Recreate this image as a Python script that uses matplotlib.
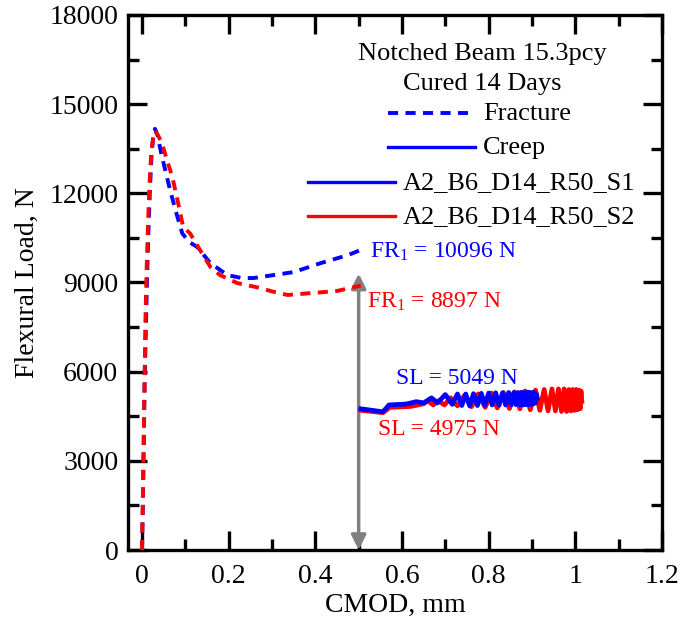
import matplotlib
matplotlib.use("Agg")
import matplotlib.pyplot as plt
from matplotlib.ticker import MultipleLocator

plt.rcParams["font.family"] = ["Liberation Serif", "DejaVu Serif"]
plt.rcParams["mathtext.fontset"] = "custom"
plt.rcParams["mathtext.rm"] = "Liberation Serif"
plt.rcParams["mathtext.it"] = "Liberation Serif:italic"

# Fracture test curves (CMOD in mm, load in N)
frac_s1_cmod = [0.0, 0.002, 0.004, 0.006, 0.009, 0.012, 0.015, 0.018, 0.022, 0.026,
                0.030, 0.036, 0.045, 0.055, 0.065, 0.078, 0.093, 0.110, 0.127, 0.158,
                0.197, 0.230, 0.257, 0.304, 0.350, 0.412, 0.475, 0.505]
frac_s1_load = [0, 1500, 3500, 5500, 7500, 9300, 10800, 12000, 13300, 13900,
                14170, 13950, 13300, 12700, 12100, 11400, 10650, 10350, 10200, 9650,
                9250, 9150, 9150, 9250, 9350, 9650, 9920, 10096]

frac_s2_cmod = [0.0, 0.002, 0.004, 0.006, 0.008, 0.011, 0.014, 0.017, 0.021, 0.025,
                0.030, 0.037, 0.046, 0.058, 0.070, 0.083, 0.095, 0.111, 0.134, 0.158,
                0.180, 0.220, 0.273, 0.300, 0.336, 0.396, 0.450, 0.505]
frac_s2_load = [0, 1800, 3800, 5800, 7800, 9600, 11000, 12200, 13300, 13800,
                14100, 13950, 13690, 13100, 12550, 11700, 10870, 10650, 10090, 9520,
                9250, 8980, 8815, 8700, 8580, 8650, 8715, 8897]

# Creep test curves
creep_s1_cmod = [0.505, 0.556, 0.570, 0.609, 0.633, 0.650, 0.668, 0.682, 0.700, 0.716,
                 0.728, 0.738, 0.747, 0.756, 0.765, 0.774, 0.783, 0.791, 0.800, 0.808,
                 0.816, 0.824, 0.832, 0.839, 0.846, 0.852, 0.858, 0.863, 0.868, 0.872,
                 0.876, 0.880, 0.884, 0.887, 0.890, 0.893, 0.896, 0.899, 0.902, 0.904,
                 0.906, 0.908, 0.910, 0.912]
creep_s1_load = [4750, 4650, 4880, 4910, 4990, 4950, 5120, 4950, 5230, 4900,
                 5250, 4860, 5250, 4850, 5260, 4860, 5270, 4870, 5280, 4880,
                 5290, 4870, 5290, 4880, 5300, 4880, 5300, 4890, 5300, 4880,
                 5310, 4880, 5300, 4890, 5310, 4890, 5300, 4900, 5300, 4920,
                 5290, 4950, 5250, 5100]

creep_s2_cmod = [0.505, 0.556, 0.572, 0.620, 0.650, 0.660, 0.672, 0.684, 0.698, 0.712,
                 0.728, 0.744, 0.760, 0.776, 0.792, 0.806, 0.820, 0.834, 0.848, 0.860,
                 0.872, 0.884, 0.896, 0.908, 0.918, 0.928, 0.937, 0.946, 0.954, 0.961,
                 0.968, 0.974, 0.980, 0.985, 0.990, 0.994, 0.998, 1.002, 1.005, 1.008,
                 1.011, 1.013, 1.015]
creep_s2_load = [4700, 4620, 4800, 4830, 4920, 5020, 4880, 5020, 4880, 5120,
                 4850, 5200, 4820, 5250, 4800, 5280, 4780, 5300, 4760, 5320,
                 4750, 5350, 4720, 5380, 4700, 5400, 4680, 5420, 4680, 5420,
                 4660, 5420, 4660, 5400, 4680, 5400, 4700, 5400, 4720, 5380,
                 4750, 5350, 5000]

fr_s1, fr_s2 = 10096, 8897
sl_s1, sl_s2 = 5049, 4975
arrow_cmod = 0.5
arrow_top = 9300

x_ticks = [0, 0.2, 0.4, 0.6, 0.8, 1.0, 1.2]
x_tick_labels = ["0", "0.2", "0.4", "0.6", "0.8", "1", "1.2"]
y_ticks = [0, 3000, 6000, 9000, 12000, 15000, 18000]

BLUE = "#0000ff"
RED = "#ff0000"
GREY = "#808080"

fig = plt.figure(figsize=(6.83, 6.27), dpi=100)
ax = fig.add_axes([0.1874, 0.1228, 0.7819, 0.8533])

dash = (0, (2.6, 1.9))
ax.plot(frac_s1_cmod, frac_s1_load, color=BLUE, lw=2.8, linestyle=dash, zorder=3)
ax.plot(frac_s2_cmod, frac_s2_load, color=RED, lw=2.8, linestyle=dash, zorder=4)
ax.plot(creep_s2_cmod, creep_s2_load, color=RED, lw=3.4, solid_joinstyle="round", zorder=3)
ax.plot(creep_s1_cmod, creep_s1_load, color=BLUE, lw=3.4, solid_joinstyle="round", zorder=4)

ax.annotate("", xy=(arrow_cmod, 0), xytext=(arrow_cmod, arrow_top),
            arrowprops=dict(arrowstyle="<|-|>", color=GREY, lw=2.5,
                            mutation_scale=22, shrinkA=0, shrinkB=0), zorder=2)

ax.text(0.526, 10027, r"FR$_1$ = %d N" % fr_s1, color=BLUE, fontsize=17, va="center", ha="left")
ax.text(0.519, 8345, r"FR$_1$ = %d N" % fr_s2, color=RED, fontsize=17, va="center", ha="left")
ax.text(0.586, 5754, "SL = %d N" % sl_s1, color=BLUE, fontsize=17, va="center", ha="left")
ax.text(0.545, 4071, "SL = %d N" % sl_s2, color=RED, fontsize=17, va="center", ha="left")

# key block
tr = ax.transAxes
ax.text(0.663, 0.927, "Notched Beam 15.3pcy", transform=tr, fontsize=19, ha="center", va="center")
ax.text(0.663, 0.871, "Cured 14 Days", transform=tr, fontsize=19, ha="center", va="center")
ax.plot([0.487, 0.637], [0.817, 0.817], transform=tr, color=BLUE, lw=2.8, linestyle=dash)
ax.text(0.665, 0.815, "Fracture", transform=tr, fontsize=19, ha="left", va="center")
ax.plot([0.487, 0.650], [0.753, 0.753], transform=tr, color=BLUE, lw=2.4)
ax.text(0.665, 0.751, "Creep", transform=tr, fontsize=19, ha="left", va="center")
ax.plot([0.337, 0.500], [0.688, 0.688], transform=tr, color=BLUE, lw=2.4)
ax.text(0.515, 0.686, "A2_B6_D14_R50_S1", transform=tr, fontsize=19, ha="left", va="center")
ax.plot([0.337, 0.500], [0.624, 0.624], transform=tr, color=RED, lw=2.4)
ax.text(0.515, 0.622, "A2_B6_D14_R50_S2", transform=tr, fontsize=19, ha="left", va="center")

ax.set_xlim(-0.0323, 1.2)
ax.set_ylim(0, 18000)
ax.set_xticks(x_ticks)
ax.set_xticklabels(x_tick_labels)
ax.set_yticks(y_ticks)
ax.xaxis.set_minor_locator(MultipleLocator(0.1))
ax.yaxis.set_minor_locator(MultipleLocator(1500))
ax.tick_params(which="both", direction="in", top=True, right=True, width=2.4, labelsize=20)
ax.tick_params(which="major", length=14)
ax.tick_params(which="minor", length=8)
ax.tick_params(axis="x", pad=10)
ax.tick_params(axis="y", pad=7)
for s in ax.spines.values():
    s.set_linewidth(2.4)

ax.set_xlabel("CMOD, mm", fontsize=20, labelpad=3)
ax.set_ylabel("Flexural Load, N", fontsize=20, labelpad=7)

fig.savefig("out.png", dpi=100)
